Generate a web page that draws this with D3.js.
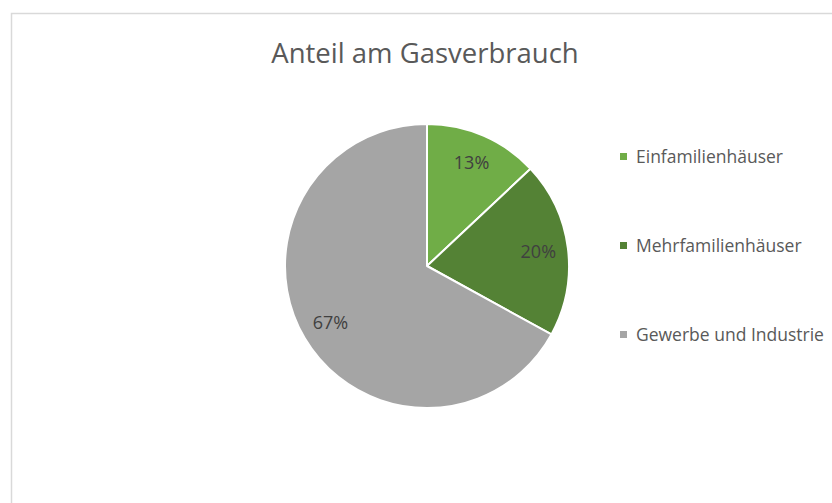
<!DOCTYPE html>
<html>
<head>
<meta charset="utf-8">
<script src="https://cdn.jsdelivr.net/npm/d3@7"></script>
<style>
  body { margin: 0; background: #fff; }
  svg { display: block; font-family: "Open Sans", sans-serif; }
</style>
</head>
<body>
<div id="chart"></div>
<script>
var title = "Anteil am Gasverbrauch";
var categories = ["Einfamilienhäuser", "Mehrfamilienhäuser", "Gewerbe und Industrie"];
var shares = [13, 20, 67];
var colors = ["#70ad47", "#548235", "#a5a5a5"];

var width = 832, height = 503;
var svg = d3.select("#chart").append("svg")
  .attr("width", width)
  .attr("height", height);

// chart frame (cut off at right and bottom like the screenshot)
svg.append("rect")
  .attr("x", 11.5).attr("y", 13.5)
  .attr("width", 840).attr("height", 520)
  .attr("fill", "#fff")
  .attr("stroke", "#d9d9d9")
  .attr("stroke-width", 1.5);

svg.append("text")
  .attr("x", 425).attr("y", 63)
  .attr("text-anchor", "middle")
  .attr("font-size", 27.5)
  .attr("fill", "#595959")
  .text(title);

var cx = 427, cy = 266, R = 142;

var z = d3.scaleOrdinal().domain(categories).range(colors);

var pie = d3.pie().sort(null).value(function(d, i) { return shares[i]; });
var arcs = pie(categories);

var arc = d3.arc().innerRadius(0).outerRadius(R);
var labelArc = d3.arc().innerRadius(R * 0.79).outerRadius(R * 0.79);

var g = svg.append("g").attr("transform", "translate(" + cx + "," + cy + ")");

g.selectAll("path")
  .data(arcs)
  .enter().append("path")
  .attr("d", arc)
  .attr("fill", function(d) { return z(d.data); })
  .attr("stroke", "#fff")
  .attr("stroke-width", 2)
  .attr("stroke-linejoin", "round");

g.selectAll("text.lbl")
  .data(arcs)
  .enter().append("text")
  .attr("class", "lbl")
  .attr("transform", function(d) { return "translate(" + labelArc.centroid(d) + ")"; })
  .attr("text-anchor", "middle")
  .attr("dy", "0.35em")
  .attr("font-size", 18)
  .attr("fill", "#404040")
  .text(function(d, i) { return shares[i] + "%"; });

// legend
var legend = svg.append("g")
  .selectAll("g")
  .data(categories)
  .enter().append("g")
  .attr("transform", function(d, i) { return "translate(620," + (157 + i * 89) + ")"; });

legend.append("rect")
  .attr("x", 0).attr("y", -4)
  .attr("width", 7).attr("height", 7)
  .attr("fill", z);

legend.append("text")
  .attr("x", 16)
  .attr("dy", "0.35em")
  .attr("font-size", 17.5)
  .attr("fill", "#595959")
  .text(function(d) { return d; });
</script>
</body>
</html>
